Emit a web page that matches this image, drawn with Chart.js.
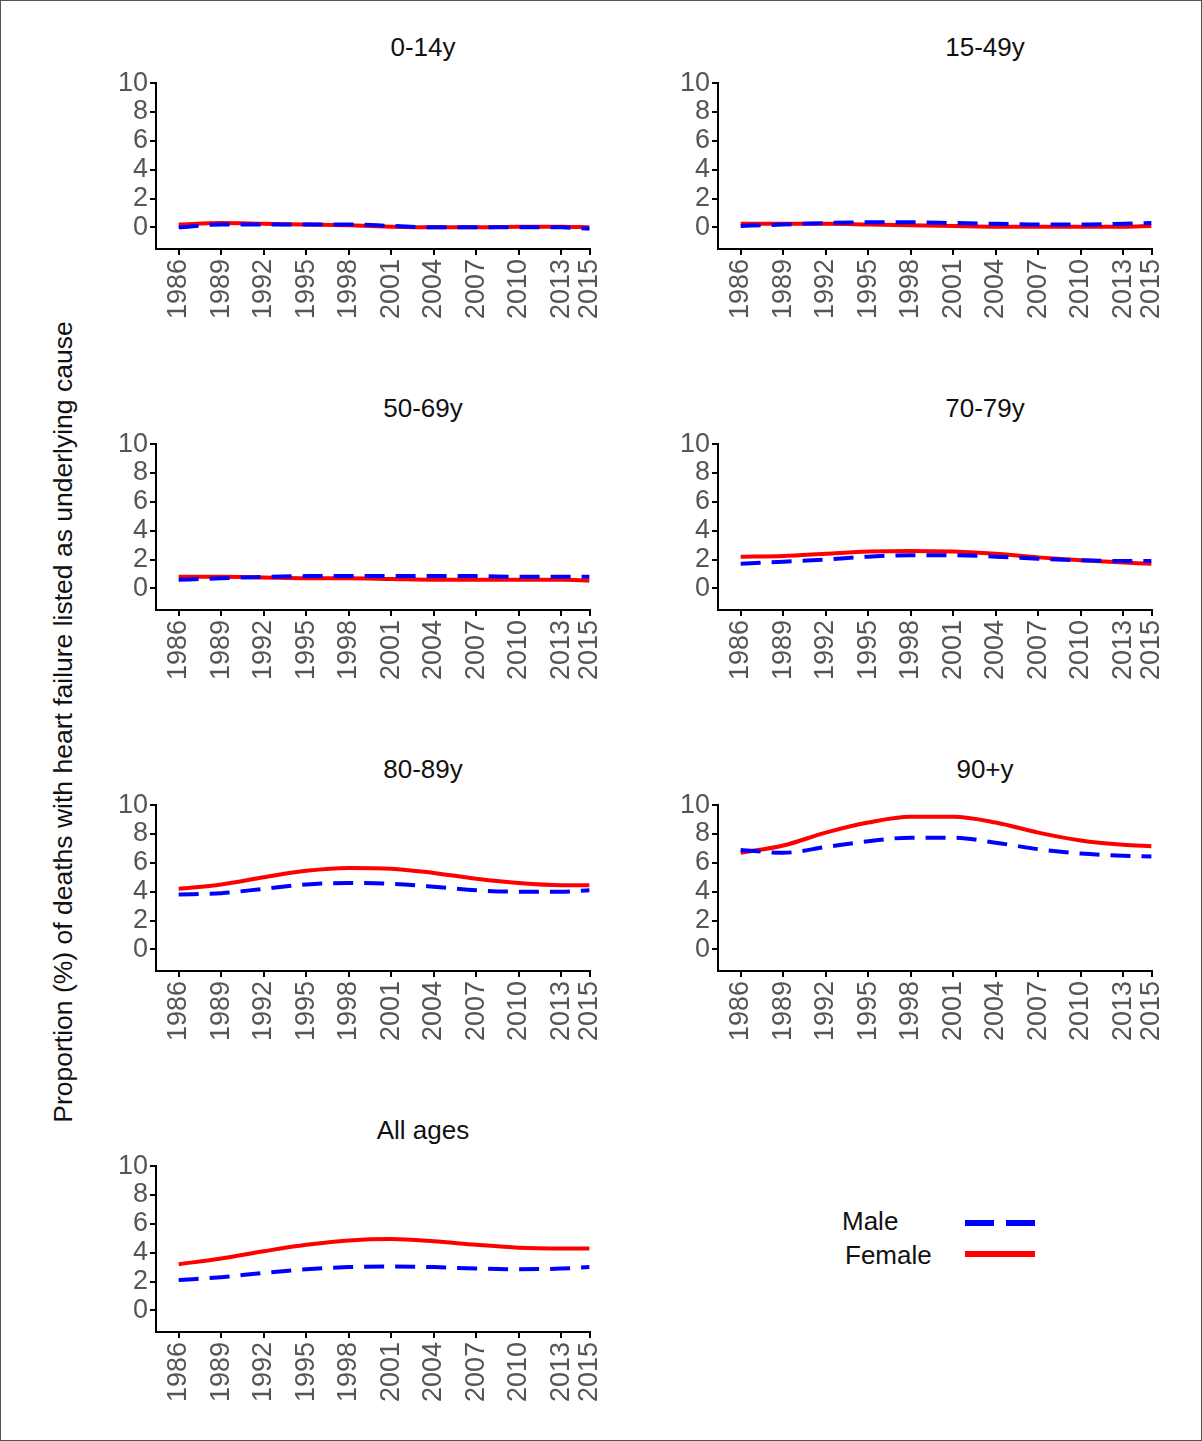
<!DOCTYPE html>
<html><head><meta charset="utf-8">
<script src="https://cdn.jsdelivr.net/npm/chart.js@4"></script>
<style>
body{margin:0;background:#fff;font-family:"Liberation Sans",Arial,sans-serif}
#page{position:relative;width:1200px;height:1439px;border:1px solid #555;overflow:hidden}
.title{position:absolute;width:300px;text-align:center;font-size:26px;color:#111}
canvas{position:absolute}
#ylab{position:absolute;left:62px;top:721px;transform:translate(-50%,-50%) rotate(-90deg);white-space:nowrap;font-size:26.5px;color:#111}
.leg{position:absolute;font-size:26px;color:#111}
.ln{position:absolute;width:70px;height:6px}
</style></head><body>
<div id="page">
<div id="ylab">Proportion (%) of deaths with heart failure listed as underlying cause</div>
<div class="leg" style="left:841px;top:1205px">Male</div>
<div class="leg" style="left:844px;top:1239px">Female</div>
<div class="ln" style="left:964px;top:1219px;background:linear-gradient(to right,#0000ff 0 29px,transparent 29px 41px,#0000ff 41px 70px)"></div>
<div class="ln" style="left:964px;top:1250px;background:#ff0000"></div>
</div>
<script>
const years = [1986, 1989, 1992, 1995, 1998, 2001, 2004, 2007, 2010, 2013, 2015];
const panelTitles = ['0-14y', '15-49y', '50-69y', '70-79y', '80-89y', '90+y', 'All ages'];
const male = [
  [0.0, 0.2, 0.2, 0.2, 0.2, 0.1, 0.0, 0.0, 0.0, 0.0, -0.1],
  [0.1, 0.2, 0.3, 0.35, 0.35, 0.3, 0.25, 0.2, 0.2, 0.25, 0.3],
  [0.6, 0.7, 0.8, 0.85, 0.85, 0.85, 0.85, 0.85, 0.8, 0.8, 0.8],
  [1.7, 1.85, 2.0, 2.2, 2.3, 2.3, 2.2, 2.05, 1.95, 1.9, 1.9],
  [3.8, 3.9, 4.2, 4.5, 4.6, 4.55, 4.35, 4.1, 4.0, 4.0, 4.1],
  [6.9, 6.7, 7.1, 7.5, 7.75, 7.75, 7.4, 6.95, 6.65, 6.5, 6.45],
  [2.1, 2.3, 2.6, 2.85, 3.0, 3.05, 3.0, 2.9, 2.85, 2.9, 3.0]
];
const female = [
  [0.2, 0.3, 0.25, 0.2, 0.15, 0.05, 0.0, 0.0, 0.05, 0.05, 0.0],
  [0.25, 0.25, 0.25, 0.2, 0.15, 0.1, 0.05, 0.05, 0.05, 0.05, 0.1],
  [0.8, 0.8, 0.75, 0.7, 0.7, 0.65, 0.6, 0.6, 0.6, 0.6, 0.55],
  [2.2, 2.25, 2.4, 2.55, 2.6, 2.55, 2.4, 2.15, 1.95, 1.8, 1.7],
  [4.2, 4.5, 5.0, 5.45, 5.65, 5.6, 5.3, 4.9, 4.6, 4.45, 4.45],
  [6.7, 7.2, 8.1, 8.8, 9.2, 9.2, 8.8, 8.1, 7.55, 7.25, 7.15],
  [3.2, 3.6, 4.1, 4.55, 4.85, 4.95, 4.8, 4.55, 4.35, 4.3, 4.3]
];
const yTicks = [0, 2, 4, 6, 8, 10];

const page = document.getElementById('page');
const tickFont = {family: '"Liberation Sans", Arial', size: 27};

panelTitles.forEach((t, i) => {
  const col = i % 2, row = Math.floor(i / 2);
  const ox = col * 562, oy = row * 361;
  const title = document.createElement('div');
  title.className = 'title';
  title.textContent = t;
  title.style.left = (272 + ox) + 'px';
  title.style.top = (31 + oy) + 'px';
  page.appendChild(title);

  const cv = document.createElement('canvas');
  cv.style.left = (100 + ox) + 'px';
  cv.style.top = (64 + oy) + 'px';
  cv.style.width = '525px';
  cv.style.height = '270px';
  cv.width = 525; cv.height = 270;
  page.appendChild(cv);

  new Chart(cv, {
    type: 'line',
    data: {
      datasets: [
        {label: 'Male', data: years.map((y, k) => ({x: y, y: male[i][k]})),
         borderColor: '#0000ff', borderWidth: 4, borderDash: [20, 11], pointRadius: 0,
         cubicInterpolationMode: 'monotone'},
        {label: 'Female', data: years.map((y, k) => ({x: y, y: female[i][k]})),
         borderColor: '#ff0000', borderWidth: 4, pointRadius: 0,
         cubicInterpolationMode: 'monotone'}
      ]
    },
    options: {
      responsive: false, animation: false,
      layout: {padding: {top: 10, right: 22}},
      plugins: {legend: {display: false}, tooltip: {enabled: false}},
      scales: {
        x: {
          type: 'linear', min: 1984.4, max: 2015,
          afterBuildTicks: s => { s.ticks = years.map(v => ({value: v})); },
          afterFit: s => { s.height = 86; },
          ticks: {minRotation: 90, maxRotation: 90, color: '#555', font: tickFont,
                  padding: 4, autoSkip: false, callback: v => String(v)},
          grid: {drawOnChartArea: false, tickLength: 6, color: '#000', lineWidth: 2},
          border: {color: '#000', width: 2}
        },
        y: {
          min: -1.5, max: 10,
          afterBuildTicks: s => { s.ticks = yTicks.map(v => ({value: v})); },
          afterFit: s => { s.width = 55; },
          ticks: {color: '#555', font: tickFont, padding: 2, autoSkip: false},
          grid: {drawOnChartArea: false, tickLength: 6, color: '#000', lineWidth: 2},
          border: {color: '#000', width: 2}
        }
      }
    }
  });
});
</script>
</body></html>
